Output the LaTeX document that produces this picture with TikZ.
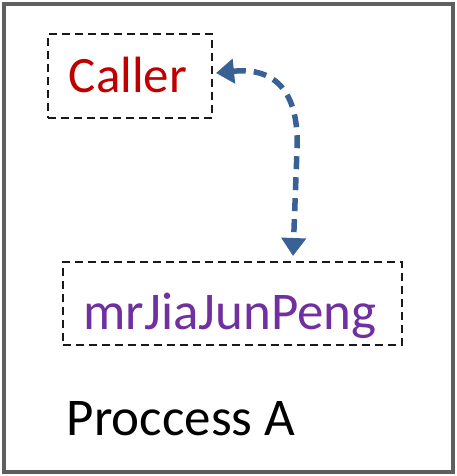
\documentclass[tikz,border=0pt]{standalone}
\usepackage{fontspec}
\setmainfont{Carlito}
\usetikzlibrary{arrows.meta}
\definecolor{frame}{HTML}{5F5F5F}
\definecolor{callred}{HTML}{C00000}
\definecolor{purp}{HTML}{7030A0}
\definecolor{arrblue}{HTML}{3A6194}
\tikzset{
  dbox/.style={draw=black!90, line width=2.6pt, dash pattern=on 8pt off 5pt, inner sep=0pt},
  link/.style={draw=arrblue, line width=5.5pt, dash pattern=on 13pt off 8pt,
    {Triangle[width=24pt,length=18pt]}-{Triangle[width=24pt,length=18pt]}},
}
\begin{document}
\begin{tikzpicture}[x=1pt,y=-1pt]
\useasboundingbox (0,0) rectangle (457,476);
\draw[frame, line width=3.5pt] (4,4) rectangle (453,472);
\node[dbox, minimum width=164pt, minimum height=84pt] (caller) at (130,76) {};
\node[callred, font=\fontsize{51pt}{60pt}\selectfont, anchor=base] (callertxt) at (128,93) {Caller};
\node[dbox, minimum width=339pt, minimum height=83pt] (mr) at (232.5,303.5) {};
\node[purp, font=\fontsize{53pt}{62pt}\selectfont, anchor=base] (mrtxt) at (230,329) {mrJiaJunPeng};
\node[black, font=\fontsize{53pt}{62pt}\selectfont, anchor=base] (proc) at (181,435) {Proccess A};
\coordinate (a1) at (216,73);
\coordinate (a2) at (293,256);
\draw[link] (a1) .. controls (285,66) and (299,105) .. (297,150) -- (a2);
\end{tikzpicture}
\end{document}
